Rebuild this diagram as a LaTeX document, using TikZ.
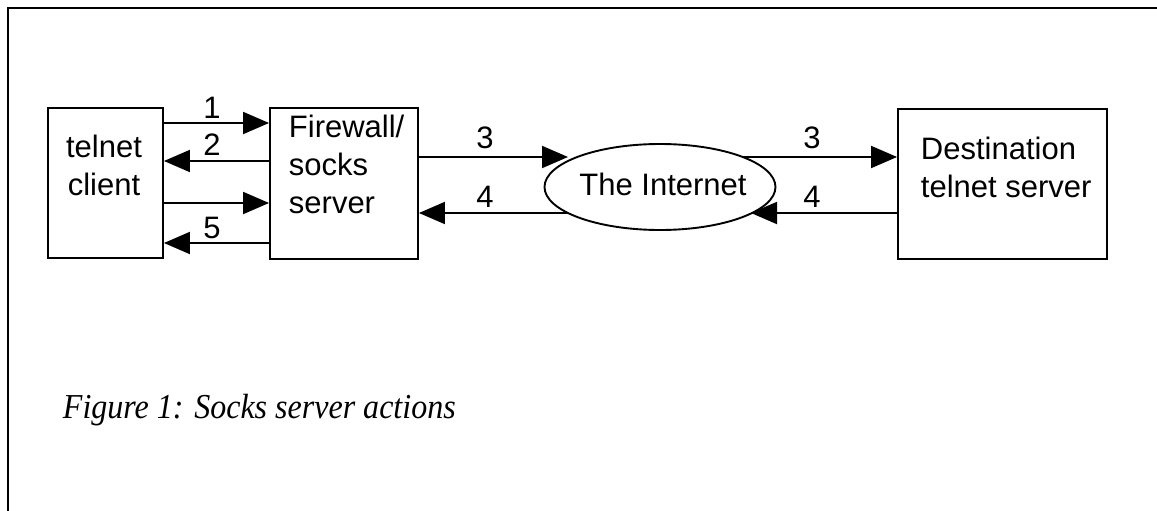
\documentclass[tikz,border=0pt]{standalone}
\usepackage{fontspec}
\setmainfont{Liberation Sans}
\newfontfamily\capfont[FakeStretch=0.915]{Liberation Serif}
\usetikzlibrary{arrows.meta,shapes.geometric}
\begin{document}
\begin{tikzpicture}[x=1pt,y=-1pt,
  line width=1.9pt,
  box/.style={draw,rectangle,inner sep=0pt},
  txt/.style={font=\fontsize{31}{38}\selectfont,inner sep=0pt},
  lab/.style={font=\fontsize{31}{38}\selectfont,inner sep=0pt,anchor=base},
  arr/.style={-{Triangle[length=26pt,width=22pt]}},
  captext/.style={font=\capfont\itshape\fontsize{35}{40}\selectfont,inner sep=0pt,anchor=base west}]
\useasboundingbox (0,0) rectangle (1157,511);
\draw (8,511) -- (8,8) -- (1157,8);
% boxes
\node[box,minimum width=115pt,minimum height=150pt] (tc) at (105.5,183) {};
\node[box,minimum width=148pt,minimum height=151pt] (fw) at (344,183.5) {};
\node[box,minimum width=209pt,minimum height=150pt] (ds) at (1002.5,184) {};
\node[draw,ellipse,inner sep=0pt,minimum width=231pt,minimum height=86pt] (in) at (660,187) {};
% texts (base anchor = baseline of last line)
\node[txt,align=center,anchor=base] (tct) at (104,195) {telnet\\client};
\node[txt,align=left,anchor=base west] (fwt) at (288,213) {Firewall/\\socks\\server};
\node[txt,align=left,anchor=base west] (dst) at (920,197) {Destination\\telnet server};
\node[txt,anchor=base] (int) at (663,195) {The Internet};
% ellipse contact points
\coordinate (iw3) at (568,157);
\coordinate (iw4) at (568,213);
\coordinate (ie3) at (742,157);
\coordinate (ie4) at (751,213);
% arrows left
\draw[arr] (tc.east |- 0,123) -- (fw.west |- 0,123);
\draw[arr] (fw.west |- 0,161) -- (tc.east |- 0,161);
\draw[arr] (tc.east |- 0,203) -- (fw.west |- 0,203);
\draw[arr] (fw.west |- 0,243) -- (tc.east |- 0,243);
% arrows middle
\draw[arr] (fw.east |- iw3) -- (iw3);
\draw[arr] (iw4) -- (fw.east |- iw4);
\draw[arr] (ie3) -- (ds.west |- ie3);
\draw[arr] (ds.west |- ie4) -- (ie4);
% labels
\node[lab] (l1) at (212,118) {1};
\node[lab] (l2) at (212,155) {2};
\node[lab] (l5) at (212,238) {5};
\node[lab] (l3a) at (485,148) {3};
\node[lab] (l4a) at (485,207) {4};
\node[lab] (l3b) at (812,148) {3};
\node[lab] (l4b) at (812,207) {4};
% caption
\node[captext] (capt) at (62,418) {Figure 1: Socks server actions};
\end{tikzpicture}
\end{document}
